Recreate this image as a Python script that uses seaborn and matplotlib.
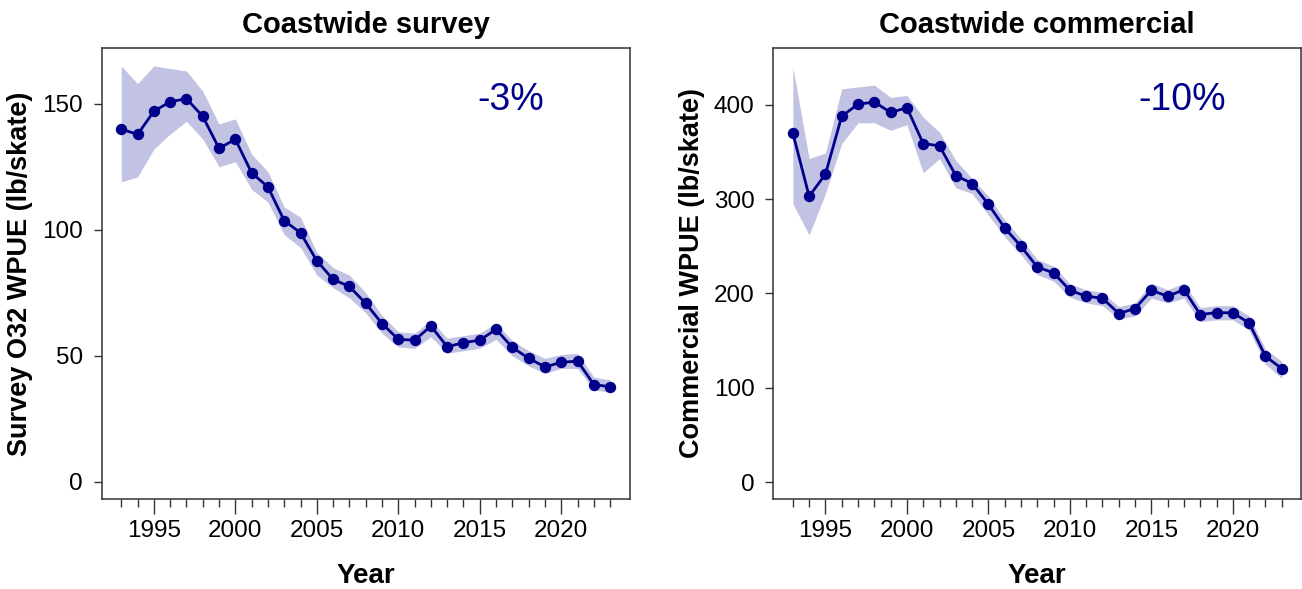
import numpy as np
import pandas as pd
import matplotlib
matplotlib.use("Agg")
import matplotlib.pyplot as plt
import seaborn as sns

years = list(range(1993, 2024))

survey_wpue = [140, 137.8, 147, 150.8, 152, 145, 132.3, 135.9, 122.6, 117, 103.6, 98.8,
               87.7, 80.3, 77.5, 70.8, 62.8, 56.5, 56.2, 61.8, 53.6, 55.2, 56.2, 60.5,
               53.3, 49, 45.6, 47.4, 47.9, 38.6, 37.7]
survey_lower = [119, 121, 132, 138, 143, 136, 125, 127, 116, 111, 98, 93,
                82, 77, 73, 67, 59, 53.5, 53, 57.5, 51, 52, 53, 56.5,
                50, 46, 43, 45, 45, 36.5, 35.5]
survey_upper = [165, 158, 165, 164, 163, 155, 142, 144, 130, 123, 109, 105,
                91, 85, 82, 75, 66, 59.5, 59, 64, 57, 58, 59, 63,
                56, 52, 49, 50.5, 51, 41.5, 40.5]

comm_wpue = [370, 303, 326.5, 388, 400.7, 403, 392, 397, 359, 356.5, 325, 316.6,
             294.5, 269.5, 250, 228, 221.8, 203.4, 197, 195, 178.7, 184, 203.4, 197,
             204, 177.6, 179.7, 179.4, 168.7, 133.4, 120.3]
comm_lower = [295, 262, 306, 359, 381, 381, 373, 379, 328, 343, 312, 306,
              283, 260, 241, 220, 213, 196, 190, 187, 173, 176, 195, 190,
              195, 170, 172, 172, 161, 125, 110]
comm_upper = [440, 343, 349, 417, 419, 421, 408, 410, 387, 371, 341, 322,
              303, 278, 258, 236, 229, 210, 204, 201, 186, 190, 211, 204,
              211, 185, 187, 187, 176, 141, 128]

titles = ["Coastwide survey", "Coastwide commercial"]
ylabels = ["Survey O32 WPUE (lb/skate)", "Commercial WPUE (lb/skate)"]
changes = ["-3%", "-10%"]
yticks_list = [[0, 50, 100, 150], [0, 100, 200, 300, 400]]
ylims = [(-6.7, 172), (-17.7, 460)]
major_xticks = [1995, 2000, 2005, 2010, 2015, 2020]

sns.set_theme(style="ticks")
plt.rcParams['font.family'] = ['Liberation Sans', 'DejaVu Sans']

navy = "#00008B"
W, H = 1302, 589
fig = plt.figure(figsize=(W / 100, H / 100), dpi=100)
fig.patch.set_facecolor("white")

panels = [
    (survey_wpue, survey_lower, survey_upper),
    (comm_wpue, comm_lower, comm_upper),
]
lefts_px = [101.7, 773.3]
for i, (vals, lo, hi) in enumerate(panels):
    ax = fig.add_axes([lefts_px[i] / W, (H - 498.7) / H, 528 / W, 450.4 / H])
    ax.set_facecolor("white")
    df = pd.DataFrame({"Year": years, "WPUE": vals, "lo": lo, "hi": hi})
    ax.fill_between(df["Year"], df["lo"], df["hi"], color=navy, alpha=0.24, linewidth=0)
    sns.lineplot(data=df, x="Year", y="WPUE", ax=ax, color=navy, linewidth=2.0,
                 marker="o", markersize=8.2, markeredgewidth=0, markeredgecolor=navy)
    ax.set_xlim(1991.8, 2024.2)
    ax.set_ylim(*ylims[i])
    ax.set_xticks(major_xticks)
    ax.set_xticks(years, minor=True)
    ax.set_yticks(yticks_list[i])
    ax.tick_params(axis="x", which="major", length=10.6, width=1.0, color="#333333",
                   labelsize=17.5, pad=5, labelcolor="black")
    ax.tick_params(axis="x", which="minor", length=6, width=1.0, color="#333333")
    ax.tick_params(axis="y", which="major", length=5.5, width=1.0, color="#333333",
                   labelsize=17.5, pad=8, labelcolor="black")
    for s in ax.spines.values():
        s.set_visible(True)
        s.set_color("#333333")
        s.set_linewidth(1.1)
    ax.set_title(titles[i], fontsize=21, fontweight="bold", pad=11, color="black")
    ax.set_xlabel("Year", fontsize=20, fontweight="bold", color="black")
    ax.set_ylabel(ylabels[i], fontsize=19.5, fontweight="bold", color="black")
    ax.xaxis.set_label_coords(0.5, -0.143)
    ax.yaxis.set_label_coords(-0.130, 0.5)
    ax.text(0.774, 0.885, changes[i], transform=ax.transAxes, fontsize=27,
            color=navy, ha="center", va="center")
    ax.grid(False)

fig.savefig("out.png", dpi=100, facecolor="white")
